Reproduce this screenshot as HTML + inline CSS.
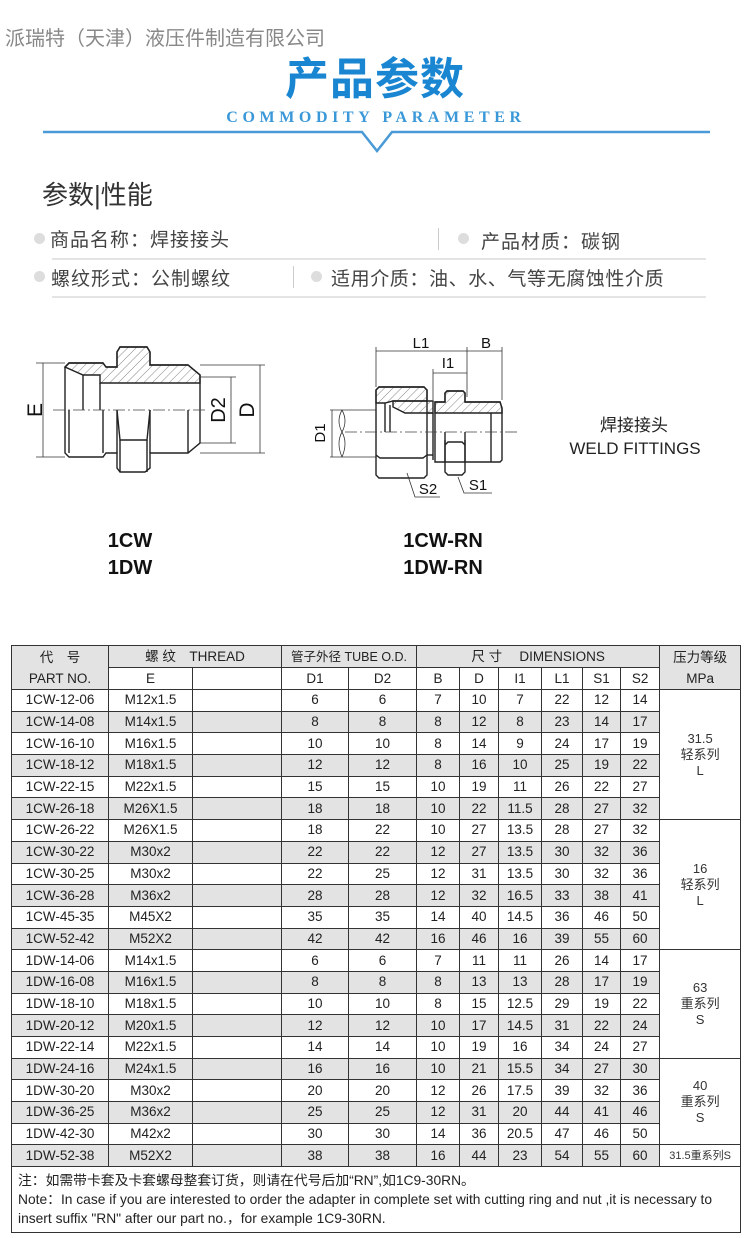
<!DOCTYPE html>
<html><head><meta charset="utf-8">
<style>
*{margin:0;padding:0;box-sizing:border-box}
body{width:750px;height:1238px;background:#fff;position:relative;overflow:hidden;font-family:"Liberation Sans","Noto Sans CJK SC",sans-serif}
.a{position:absolute;white-space:nowrap}
.cn{font-family:"Liberation Sans","Noto Sans CJK SC",sans-serif}
table{position:absolute;left:11px;top:645px;border-collapse:collapse;table-layout:fixed;width:729px}
td{border:1.5px solid #333;text-align:center;font-size:13.5px;color:#222;height:21.7px;padding:0;line-height:14px;overflow:hidden;white-space:nowrap}
tr.h td{height:22px;font-size:13.5px}
tr.g td{background:#e3e3e3}
td.p{background:#fff!important;font-size:13px;line-height:16px;color:#333}
.bul{position:absolute;width:11px;height:11px;border-radius:50%;background:#ddd}
</style></head><body>
<div class="a cn" style="left:5px;top:22px;font-size:20px;color:#888">派瑞特（天津）液压件制造有限公司</div>
<div class="a cn" style="left:0;width:750px;text-align:center;top:57px;line-height:46px;font-size:44px;font-weight:bold;color:#1a86d2;letter-spacing:1px">产品参数</div>
<div class="a" style="left:0;width:752px;text-align:center;top:109px;line-height:18px;font-size:16px;font-family:'Liberation Serif',serif;color:#3a98d8;letter-spacing:4.6px;font-weight:bold">COMMODITY PARAMETER</div>
<svg class="a" style="left:0;top:0" width="750" height="160"><polyline points="43,132 362,132 377,151 392,132 710,132" fill="none" stroke="#4a9ad8" stroke-width="2.5"/></svg>
<div class="a cn" style="left:42px;top:175px;font-size:26px;color:#333">参数|性能</div>
<div class="bul" style="left:34px;top:233px"></div>
<div class="a cn" style="left:50px;top:225px;font-size:19px;color:#444;letter-spacing:1px">商品名称：焊接接头</div>
<div class="a" style="left:438px;top:228px;width:1px;height:22px;background:#ccc"></div>
<div class="bul" style="left:458px;top:233px"></div>
<div class="a cn" style="left:481px;top:227px;font-size:19px;color:#444;letter-spacing:1px">产品材质：碳钢</div>
<div class="a" style="left:52px;top:258px;width:654px;height:2px;background:#e4e4e4"></div>
<div class="bul" style="left:34px;top:271px"></div>
<div class="a cn" style="left:51px;top:264px;font-size:19px;color:#444;letter-spacing:1px">螺纹形式：公制螺纹</div>
<div class="a" style="left:293px;top:266px;width:1px;height:22px;background:#ccc"></div>
<div class="bul" style="left:311px;top:271px"></div>
<div class="a cn" style="left:331px;top:264px;font-size:19px;color:#444;letter-spacing:0.6px">适用介质：油、水、气等无腐蚀性介质</div>
<div class="a" style="left:52px;top:296px;width:654px;height:2px;background:#e4e4e4"></div>

<svg class="a" style="left:0;top:330px" width="750" height="190" viewBox="0 330 750 190" font-family="Liberation Sans,sans-serif">
<defs><pattern id="ht" width="6" height="6" patternUnits="userSpaceOnUse" patternTransform="rotate(45)"><line x1="0" y1="0" x2="0" y2="6" stroke="#555" stroke-width="0.7"/></pattern></defs>
<g fill="none" stroke="#222" stroke-width="1.4">
<polygon points="65,367 69,363 103,363 106,367 117,367 117,352 120,347 147,347 150,352 150,365 188,365 200,375 200,443 188,453 150,453 150,468 145,472 120,472 117,468 117,453 106,453 103,457 69,457 65,453"/>
<polygon points="69,363 103,363 106,367 117,367 117,352 120,347 147,347 150,352 150,365 188,365 200,375 200,383 100,383 100,375 83,375 65,367" fill="url(#ht)"/>
<line x1="83" y1="375" x2="83" y2="410"/><line x1="100" y1="383" x2="100" y2="410"/>
<line x1="69" y1="410" x2="69" y2="453"/><line x1="103" y1="410" x2="103" y2="453"/>
<line x1="117" y1="410" x2="117" y2="453"/><line x1="150" y1="410" x2="150" y2="453"/>
<polyline points="117,410 120,440 147,440 150,410"/><line x1="120" y1="440" x2="120" y2="472"/><line x1="147" y1="440" x2="147" y2="472"/>
<line x1="188" y1="410" x2="188" y2="453"/>
</g>
<line x1="53" y1="410" x2="207" y2="410" stroke="#444" stroke-width="0.8" stroke-dasharray="12,3,2,3"/>
<g stroke="#333" stroke-width="0.8" fill="none">
<line x1="36" y1="363" x2="65" y2="363"/><line x1="36" y1="457" x2="65" y2="457"/><line x1="43" y1="363" x2="43" y2="457"/>
<line x1="200" y1="377" x2="236" y2="377"/><line x1="200" y1="443" x2="236" y2="443"/><line x1="231" y1="377" x2="231" y2="443"/>
<line x1="200" y1="365" x2="265" y2="365"/><line x1="200" y1="453" x2="265" y2="453"/><line x1="260" y1="365" x2="260" y2="453"/>
</g>
<text transform="translate(42,410) rotate(-90)" font-size="21" text-anchor="middle" fill="#111">E</text>
<text transform="translate(225,410) rotate(-90)" font-size="20" text-anchor="middle" fill="#111">D2</text>
<text transform="translate(254,410) rotate(-90)" font-size="21" text-anchor="middle" fill="#111">D</text>

<g fill="none" stroke="#222" stroke-width="1.4">
<polygon points="376,390 379,387 424,387 427,390 427,475 424,478 379,478 376,475"/>
<polygon points="379,387 424,387 427,390 427,401 393,401 385,403 376,403 376,390" fill="url(#ht)"/>
<polygon points="393,401 433,401 433,413 405,413 393,407" fill="url(#ht)"/>
<polygon points="435,402 445,402 445,393 447,391 463,391 465,393 465,402 500,402 502,408 502,460 500,462 435,462"/>
<polygon points="435,402 445,402 445,393 447,391 463,391 465,393 465,402 500,402 502,408 502,413 435,413" fill="url(#ht)"/>
<line x1="385" y1="403" x2="385" y2="432"/><line x1="390" y1="405" x2="390" y2="432"/>
<line x1="427" y1="413" x2="433" y2="413"/><line x1="433" y1="413" x2="433" y2="460"/>
<line x1="427" y1="455" x2="433" y2="455"/>
<polyline points="445,440 445,472 448,475 462,475 465,472 465,440"/><line x1="445" y1="432" x2="445" y2="462"/><line x1="465" y1="432" x2="465" y2="462"/>
<polyline points="445,445 448,442 462,442 465,445"/>
<polyline points="376,455 380,458 423,458 427,455"/>
<line x1="491" y1="413" x2="491" y2="462"/>
</g>
<line x1="345" y1="432" x2="517" y2="432" stroke="#444" stroke-width="0.8" stroke-dasharray="12,3,2,3"/>
<g stroke="#333" stroke-width="0.8" fill="none">
<line x1="330" y1="410" x2="376" y2="410"/><line x1="330" y1="457" x2="376" y2="457"/><line x1="332" y1="410" x2="332" y2="457"/>
<path d="M342,410 q-6,11 0,22 q6,11 0,25"/><path d="M342,410 q6,11 0,22 q-6,11 0,25"/>
<line x1="376" y1="347" x2="376" y2="387"/><line x1="467" y1="347" x2="467" y2="397"/><line x1="502" y1="347" x2="502" y2="400"/>
<line x1="376" y1="351" x2="502" y2="351"/>
<line x1="433" y1="369" x2="433" y2="400"/><line x1="433" y1="373" x2="467" y2="373"/>
<polyline points="407,473 415,497 440,497"/><polyline points="458,477 464,493 492,493"/>
</g>
<text x="421" y="348" font-size="15" text-anchor="middle" fill="#111">L1</text>
<text x="486" y="348" font-size="15" text-anchor="middle" fill="#111">B</text>
<text x="448" y="368" font-size="15" text-anchor="middle" fill="#111">I1</text>
<text transform="translate(325,433) rotate(-90)" font-size="15" text-anchor="middle" fill="#111">D1</text>
<text x="428" y="494" font-size="15" text-anchor="middle" fill="#111">S2</text>
<text x="478" y="490" font-size="15" text-anchor="middle" fill="#111">S1</text>
<text x="634" y="431" font-size="17" text-anchor="middle" fill="#222" font-family="Liberation Sans,Noto Sans CJK SC,sans-serif">焊接接头</text>
<text x="635" y="454" font-size="17" text-anchor="middle" fill="#222">WELD FITTINGS</text>
</svg>
<div class="a" style="left:0;width:260px;text-align:center;top:530px;font-size:20px;font-weight:bold;color:#111">1CW</div>
<div class="a" style="left:313px;width:260px;text-align:center;top:530px;font-size:20px;font-weight:bold;color:#111">1CW-RN</div>
<div class="a" style="left:0;width:260px;text-align:center;top:557px;font-size:20px;font-weight:bold;color:#111">1DW</div>
<div class="a" style="left:313px;width:260px;text-align:center;top:557px;font-size:20px;font-weight:bold;color:#111">1DW-RN</div>

<table>
<colgroup><col style="width:97px"><col style="width:84px"><col style="width:89px"><col style="width:67px"><col style="width:68px"><col style="width:43px"><col style="width:39px"><col style="width:43px"><col style="width:41px"><col style="width:38px"><col style="width:39px"><col style="width:81px"></colgroup>
<tr class="h"><td rowspan="2" style="background:#e3e3e3;line-height:21px">代　号<br>PART NO.</td><td colspan="2" style="background:#e3e3e3">螺 纹　THREAD</td><td colspan="2" style="background:#e3e3e3;font-size:12.5px">管子外径 TUBE O.D.</td><td colspan="6" style="background:#e3e3e3">尺 寸　 DIMENSIONS</td><td rowspan="2" style="background:#e3e3e3;line-height:21px">压力等级<br>MPa</td></tr>
<tr class="h"><td>E</td><td></td><td>D1</td><td>D2</td><td>B</td><td>D</td><td>I1</td><td>L1</td><td>S1</td><td>S2</td></tr>
<tr><td>1CW-12-06</td><td>M12x1.5</td><td></td><td>6</td><td>6</td><td>7</td><td>10</td><td>7</td><td>22</td><td>12</td><td>14</td><td class="p" rowspan="6">31.5<br>轻系列<br>L</td></tr>
<tr class="g"><td>1CW-14-08</td><td>M14x1.5</td><td></td><td>8</td><td>8</td><td>8</td><td>12</td><td>8</td><td>23</td><td>14</td><td>17</td></tr>
<tr><td>1CW-16-10</td><td>M16x1.5</td><td></td><td>10</td><td>10</td><td>8</td><td>14</td><td>9</td><td>24</td><td>17</td><td>19</td></tr>
<tr class="g"><td>1CW-18-12</td><td>M18x1.5</td><td></td><td>12</td><td>12</td><td>8</td><td>16</td><td>10</td><td>25</td><td>19</td><td>22</td></tr>
<tr><td>1CW-22-15</td><td>M22x1.5</td><td></td><td>15</td><td>15</td><td>10</td><td>19</td><td>11</td><td>26</td><td>22</td><td>27</td></tr>
<tr class="g"><td>1CW-26-18</td><td>M26X1.5</td><td></td><td>18</td><td>18</td><td>10</td><td>22</td><td>11.5</td><td>28</td><td>27</td><td>32</td></tr>
<tr><td>1CW-26-22</td><td>M26X1.5</td><td></td><td>18</td><td>22</td><td>10</td><td>27</td><td>13.5</td><td>28</td><td>27</td><td>32</td><td class="p" rowspan="6">16<br>轻系列<br>L</td></tr>
<tr class="g"><td>1CW-30-22</td><td>M30x2</td><td></td><td>22</td><td>22</td><td>12</td><td>27</td><td>13.5</td><td>30</td><td>32</td><td>36</td></tr>
<tr><td>1CW-30-25</td><td>M30x2</td><td></td><td>22</td><td>25</td><td>12</td><td>31</td><td>13.5</td><td>30</td><td>32</td><td>36</td></tr>
<tr class="g"><td>1CW-36-28</td><td>M36x2</td><td></td><td>28</td><td>28</td><td>12</td><td>32</td><td>16.5</td><td>33</td><td>38</td><td>41</td></tr>
<tr><td>1CW-45-35</td><td>M45X2</td><td></td><td>35</td><td>35</td><td>14</td><td>40</td><td>14.5</td><td>36</td><td>46</td><td>50</td></tr>
<tr class="g"><td>1CW-52-42</td><td>M52X2</td><td></td><td>42</td><td>42</td><td>16</td><td>46</td><td>16</td><td>39</td><td>55</td><td>60</td></tr>
<tr><td>1DW-14-06</td><td>M14x1.5</td><td></td><td>6</td><td>6</td><td>7</td><td>11</td><td>11</td><td>26</td><td>14</td><td>17</td><td class="p" rowspan="5">63<br>重系列<br>S</td></tr>
<tr class="g"><td>1DW-16-08</td><td>M16x1.5</td><td></td><td>8</td><td>8</td><td>8</td><td>13</td><td>13</td><td>28</td><td>17</td><td>19</td></tr>
<tr><td>1DW-18-10</td><td>M18x1.5</td><td></td><td>10</td><td>10</td><td>8</td><td>15</td><td>12.5</td><td>29</td><td>19</td><td>22</td></tr>
<tr class="g"><td>1DW-20-12</td><td>M20x1.5</td><td></td><td>12</td><td>12</td><td>10</td><td>17</td><td>14.5</td><td>31</td><td>22</td><td>24</td></tr>
<tr><td>1DW-22-14</td><td>M22x1.5</td><td></td><td>14</td><td>14</td><td>10</td><td>19</td><td>16</td><td>34</td><td>24</td><td>27</td></tr>
<tr class="g"><td>1DW-24-16</td><td>M24x1.5</td><td></td><td>16</td><td>16</td><td>10</td><td>21</td><td>15.5</td><td>34</td><td>27</td><td>30</td><td class="p" rowspan="4">40<br>重系列<br>S</td></tr>
<tr><td>1DW-30-20</td><td>M30x2</td><td></td><td>20</td><td>20</td><td>12</td><td>26</td><td>17.5</td><td>39</td><td>32</td><td>36</td></tr>
<tr class="g"><td>1DW-36-25</td><td>M36x2</td><td></td><td>25</td><td>25</td><td>12</td><td>31</td><td>20</td><td>44</td><td>41</td><td>46</td></tr>
<tr><td>1DW-42-30</td><td>M42x2</td><td></td><td>30</td><td>30</td><td>14</td><td>36</td><td>20.5</td><td>47</td><td>46</td><td>50</td></tr>
<tr class="g"><td>1DW-52-38</td><td>M52X2</td><td></td><td>38</td><td>38</td><td>16</td><td>44</td><td>23</td><td>54</td><td>55</td><td>60</td><td class="p" style="font-size:11px">31.5重系列S</td></tr>
<tr><td colspan="12" style="height:65px;text-align:left;padding:4px 6px;font-size:13.8px;line-height:19px;color:#222;white-space:nowrap">注：如需带卡套及卡套螺母整套订货，则请在代号后加“RN”,如1C9-30RN。<br>Note：In case if you are interested to order the adapter in complete set with cutting ring and nut ,it is necessary to<br>insert suffix "RN" after our part no.，for example 1C9-30RN.</td></tr>
</table>
</body></html>
